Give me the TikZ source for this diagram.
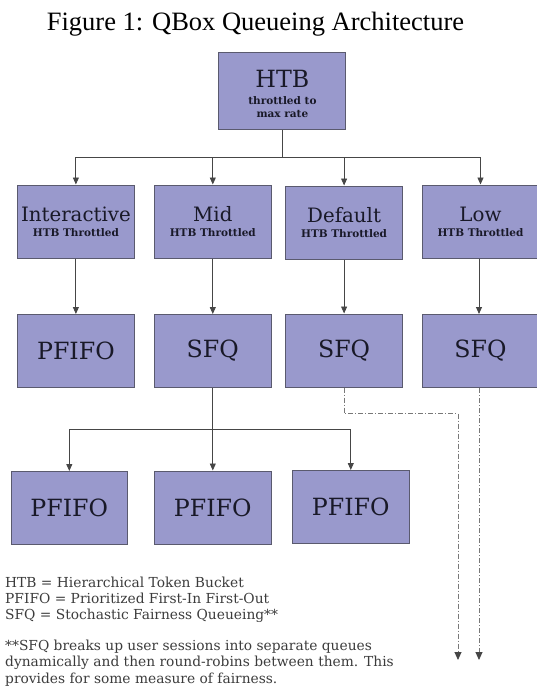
\documentclass[tikz,border=0pt]{standalone}
\usepackage{fontspec}
\setmainfont{DejaVu Serif}
\newfontfamily\titlefont{Liberation Serif}
\usetikzlibrary{arrows.meta}
\definecolor{boxfill}{RGB}{153,153,204}
\definecolor{boxline}{RGB}{90,90,110}
\definecolor{connline}{RGB}{70,70,70}
\definecolor{ddline}{RGB}{120,120,120}
\definecolor{boxtext}{RGB}{25,25,40}
\definecolor{legtext}{RGB}{60,60,60}
\newcommand\bigname{\fontsize{23.7}{24}\selectfont}
\newcommand\midname{\fontsize{19.8}{20}\selectfont}
\newcommand\subname{\bfseries\fontsize{10.5}{12}\selectfont}
\tikzset{
  qbox/.style={draw=boxline, line width=1pt, fill=boxfill, text=boxtext,
    minimum width=116.5pt, minimum height=73pt, inner sep=0pt, align=center},
  conn/.style={draw=connline, line width=0.9pt},
  arr/.style={conn, -{Triangle[length=7pt,width=6pt]}},
  dd/.style={draw=ddline, line width=0.9pt, dash pattern=on 5pt off 2pt on 1pt off 2pt,
    -{Triangle[length=8pt,width=7pt,fill=connline,color=connline]}}
}
\begin{document}
\begin{tikzpicture}[x=1pt,y=-1pt]
\useasboundingbox (0,0) rectangle (536,686);
% title
\node[anchor=base, font=\titlefont\fontsize{26.5}{28}\selectfont] (title) at (255.5,30) {Figure 1: QBox Queueing Architecture};
% top
\node[qbox, minimum width=127pt, minimum height=77pt] (htb) at (282.4,91)
  {\rule{0pt}{23pt}\bigname HTB\\[5pt]\subname throttled to\\[1.7pt]\subname max rate};
% row 2
\node[qbox] (inter) at (75.9,221.5) {\midname Interactive\\[3pt]\subname HTB Throttled};
\node[qbox] (mid)   at (212.8,221.5) {\midname Mid\\[3pt]\subname HTB Throttled};
\node[qbox] (def)   at (344.1,222.5) {\midname Default\\[3pt]\subname HTB Throttled};
\node[qbox] (low)   at (480.5,221.5) {\midname Low\\[3pt]\subname HTB Throttled};
% row 3
\node[qbox] (pf)   at (75.9,351)  {\bigname PFIFO};
\node[qbox] (sfqa) at (212.8,351) {\bigname SFQ};
\node[qbox] (sfqb) at (344.1,350.5) {\bigname SFQ};
\node[qbox] (sfqc) at (480.5,351) {\bigname SFQ};
% row 4
\node[qbox] (pfa) at (69.3,508)  {\bigname PFIFO};
\node[qbox] (pfb) at (212.8,507.5) {\bigname PFIFO};
\node[qbox] (pfc) at (350.8,507) {\bigname PFIFO};
% helper coordinates
\coordinate (bus) at (283,157);
\coordinate (bustwo) at (213,429);
\coordinate (turn) at (344,413.5);
\coordinate (outa) at (458,660);
\coordinate (outb) at (479,660);
% connectors HTB -> row 2
\draw[conn] (htb.south) -- (htb.south |- bus);
\foreach \n in {inter,mid,def,low}{
  \draw[arr] (htb.south |- bus) -| (\n.north);
}
% row 2 -> row 3
\draw[arr] (inter.south) -- (pf.north);
\draw[arr] (mid.south) -- (sfqa.north);
\draw[arr] (def.south) -- (sfqb.north);
\draw[arr] (low.south -| outb) -- (sfqc.north -| outb);
% SFQ -> PFIFOs
\draw[conn] (sfqa.south) -- (sfqa.south |- bustwo);
\foreach \n in {pfa,pfb,pfc}{
  \draw[arr] (sfqa.south |- bustwo) -| (\n.north);
}
% dash-dot outputs
\draw[dd] (sfqb.south) -- (sfqb.south |- turn) -| (outa);
\draw[dd] (sfqc.south -| outb) -- (outb);
% legend
\node[anchor=north west, align=left, inner sep=0pt, text=legtext,
  font=\fontsize{13.8}{16.2}\selectfont] (legend) at (5,576.5)
  {HTB = Hierarchical Token Bucket\\
   PFIFO = Prioritized First-In First-Out\\
   SFQ = Stochastic Fairness Queueing**\\[15pt]
   **SFQ breaks up user sessions into separate queues\\
   dynamically and then round-robins between them. This\\
   provides for some measure of fairness.};
\end{tikzpicture}
\end{document}
